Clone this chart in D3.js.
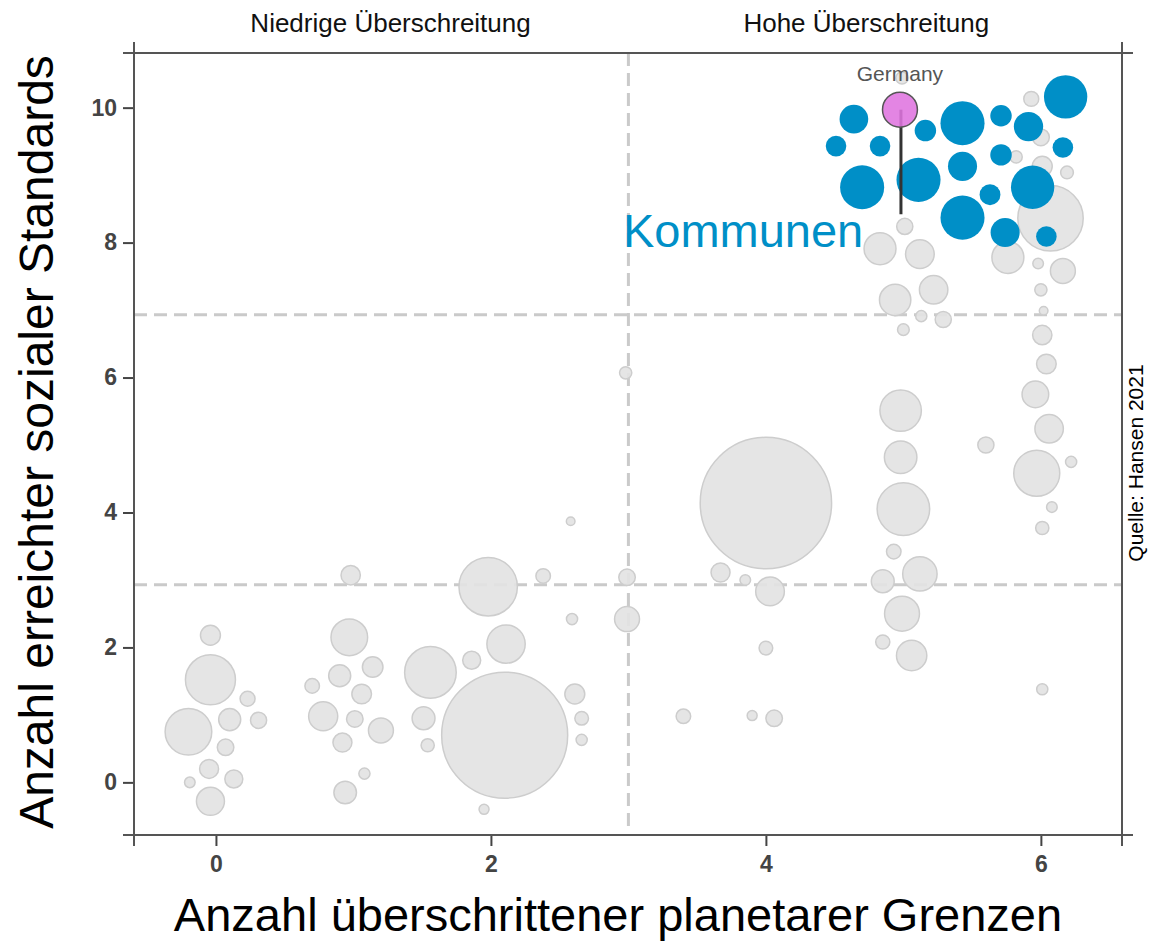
<!DOCTYPE html>
<head>
<meta charset="utf-8">
<script src="https://d3js.org/d3.v7.min.js"></script>
<style>
  body { margin: 0; background: #fff; font-family: "Liberation Sans", Arial, sans-serif; }
  .tick text { font-weight: bold; fill: #444; font-size: 23px; }
  .tick line { stroke: #444; stroke-width: 2; }
</style>
</head>
<body>
<div id="chart"></div>
<script>
// axis setup
var xTicks = [0, 2, 4, 6];
var yTicks = [0, 2, 4, 6, 8, 10];
var vLines = [3];            // planetary boundary split
var hLines = [2.93, 6.93];   // social threshold splits
var topLabels = ["Niedrige Überschreitung", "Hohe Überschreitung"];
var topLabelX = [1.27, 4.73];

// countries: [x, y, population]
var grayBubbles = [
  [-0.04, 2.18, 32], [-0.04, 1.52, 201], [-0.20, 0.75, 175], [0.10, 0.93, 39],
  [0.23, 1.24, 18], [0.31, 0.92, 21], [0.07, 0.52, 22], [-0.05, 0.20, 29],
  [-0.19, 0.00, 9], [0.13, 0.05, 26], [-0.04, -0.28, 63],
  [0.98, 3.07, 30], [0.97, 2.15, 108], [1.14, 1.71, 34], [0.90, 1.58, 39],
  [0.70, 1.43, 17], [1.06, 1.31, 31], [0.78, 0.98, 68], [1.01, 0.94, 22],
  [1.20, 0.77, 50], [0.92, 0.59, 29], [1.08, 0.13, 10], [0.94, -0.15, 41],
  [1.98, 2.90, 274], [2.38, 3.06, 17], [2.11, 2.05, 118], [1.86, 1.81, 26],
  [1.56, 1.63, 214], [2.10, 0.70, 1276], [1.51, 0.95, 42], [1.54, 0.55, 14],
  [1.95, -0.40, 8], [2.59, 2.42, 10], [2.61, 1.31, 32], [2.66, 0.95, 15],
  [2.66, 0.63, 10], [2.58, 3.87, 6],
  [2.98, 6.07, 12], [2.99, 3.04, 22], [2.99, 2.42, 50],
  [4.00, 4.14, 1387], [3.67, 3.11, 29], [3.85, 3.00, 9], [4.03, 2.83, 66],
  [4.00, 1.99, 15], [3.40, 0.98, 17], [3.90, 0.99, 8], [4.06, 0.95, 22],
  [4.98, 5.51, 138], [4.98, 4.82, 85], [5.00, 4.05, 222], [4.93, 3.42, 17],
  [5.12, 3.09, 95], [4.85, 2.98, 42], [4.99, 2.50, 98], [4.85, 2.08, 16],
  [5.06, 1.88, 74], [5.60, 5.00, 21], [5.01, 8.24, 21], [4.83, 7.91, 82],
  [5.12, 7.83, 66], [4.94, 7.15, 79], [5.22, 7.30, 65], [5.13, 6.91, 10],
  [5.29, 6.86, 21], [5.00, 6.71, 11], [4.99, 10.44, 12],
  [6.02, 6.99, 6], [6.01, 6.63, 30], [6.04, 6.20, 31], [5.96, 5.75, 57],
  [6.06, 5.24, 65], [6.22, 4.75, 10], [5.97, 4.58, 170], [6.08, 4.08, 9],
  [6.01, 3.77, 14], [6.01, 1.38, 10], [5.76, 7.78, 82], [5.98, 7.69, 9],
  [6.16, 7.58, 50], [6.00, 7.30, 12], [6.07, 8.36, 344], [5.93, 10.13, 18],
  [6.00, 9.56, 23], [5.82, 9.27, 12], [6.01, 9.13, 32], [6.19, 9.04, 13]
];

// municipalities: [x, y, size]
var blueBubbles = [
  [4.64, 9.83, 66], [4.51, 9.43, 34], [4.83, 9.43, 34], [5.16, 9.66, 37],
  [5.43, 9.77, 156], [5.71, 9.88, 37], [5.91, 9.72, 69], [6.18, 10.16, 151],
  [6.16, 9.41, 34], [5.43, 9.13, 68], [5.71, 9.30, 37], [4.70, 8.82, 156],
  [5.11, 8.93, 156], [5.63, 8.71, 35], [5.94, 8.82, 151], [5.43, 8.37, 156],
  [5.74, 8.15, 68], [6.04, 8.09, 34]
];

var germany = {name: "Germany", x: 4.975, y: 9.97, pop: 98, lineTo: 8.42};
var blueLabel = {text: "Kommunen", x: 2.96, y: 7.94};

var margin = {top: 53, right: 28, bottom: 109, left: 134},
    width = 1150 - margin.left - margin.right,
    height = 944 - margin.top - margin.bottom;

var svg = d3.select("#chart")
  .append("svg")
    .attr("width", 1150)
    .attr("height", 944)
  .append("g")
    .attr("transform", "translate(" + margin.left + "," + margin.top + ")");

var x = d3.scaleLinear().domain([-0.596, 6.59]).range([0, width]);
var y = d3.scaleLinear().domain([-0.78, 10.81]).range([height, 0]);
var r = d3.scaleSqrt().domain([0, 1400]).range([0, 66]);

// dashed split lines
svg.selectAll(".vsplit").data(vLines).enter().append("line")
  .attr("x1", function(d) { return x(d); }).attr("x2", function(d) { return x(d); })
  .attr("y1", 0).attr("y2", height - 8)
  .style("stroke", "#cacaca").style("stroke-width", 3).style("stroke-dasharray", "13,7");
svg.selectAll(".hsplit").data(hLines).enter().append("line")
  .attr("x1", 0).attr("x2", width)
  .attr("y1", function(d) { return y(d); }).attr("y2", function(d) { return y(d); })
  .style("stroke", "#cacaca").style("stroke-width", 3).style("stroke-dasharray", "13,7");

// gray country bubbles, big ones first
svg.append("g")
  .selectAll("circle")
  .data(grayBubbles.slice().sort(function(a, b) { return b[2] - a[2]; }))
  .enter()
  .append("circle")
    .attr("cx", function(d) { return x(d[0]); })
    .attr("cy", function(d) { return y(d[1]); })
    .attr("r", function(d) { return r(d[2]); })
    .style("fill", "#e3e3e3")
    .style("fill-opacity", 0.92)
    .style("stroke", "#cdcdcd")
    .style("stroke-width", 1.5);

// blue municipality bubbles
svg.append("g")
  .selectAll("circle")
  .data(blueBubbles)
  .enter()
  .append("circle")
    .attr("cx", function(d) { return x(d[0]); })
    .attr("cy", function(d) { return y(d[1]); })
    .attr("r", function(d) { return r(d[2]); })
    .style("fill", "#008fc7");

// Germany marker
svg.append("line")
  .attr("x1", x(germany.x) + 1).attr("x2", x(germany.x) + 1)
  .attr("y1", y(germany.y)).attr("y2", y(germany.lineTo))
  .style("stroke", "#333").style("stroke-width", 3);
svg.append("circle")
  .attr("cx", x(germany.x))
  .attr("cy", y(germany.y))
  .attr("r", r(germany.pop))
  .style("fill", "#df74df")
  .style("fill-opacity", 0.88)
  .style("stroke", "#555")
  .style("stroke-width", 1.5);
svg.append("text")
  .attr("x", x(germany.x))
  .attr("y", y(germany.y) - r(germany.pop) - 11)
  .style("text-anchor", "middle")
  .style("font-size", "21px")
  .style("fill", "#555")
  .text(germany.name);

svg.append("text")
  .attr("x", x(blueLabel.x))
  .attr("y", y(blueLabel.y))
  .style("font-size", "47px")
  .style("fill", "#008fc7")
  .text(blueLabel.text);

// axes
svg.append("g")
  .attr("transform", "translate(0," + height + ")")
  .call(d3.axisBottom(x).tickValues(xTicks).tickSize(11).tickSizeOuter(0).tickPadding(10))
  .call(function(g) { g.select(".domain").remove(); });
svg.append("g")
  .call(d3.axisLeft(y).tickValues(yTicks).tickSize(11).tickSizeOuter(0).tickPadding(6))
  .call(function(g) { g.select(".domain").remove(); });
d3.selectAll(".tick text").attr("font-family", null).attr("font-size", null);

// frame with overhanging ends
var over = 11;
var frame = [
  [-over, 0, width + over, 0],
  [-over, height, width + over, height],
  [0, -over, 0, height + over],
  [width, -over, width, height + over]
];
svg.selectAll(".frame").data(frame).enter().append("line")
  .attr("x1", function(d) { return d[0]; }).attr("y1", function(d) { return d[1]; })
  .attr("x2", function(d) { return d[2]; }).attr("y2", function(d) { return d[3]; })
  .style("stroke", "#555").style("stroke-width", 2);

// titles
svg.selectAll(".toplabel").data(topLabels).enter().append("text")
  .attr("x", function(d, i) { return x(topLabelX[i]); })
  .attr("y", -21)
  .style("text-anchor", "middle")
  .style("font-size", "26px")
  .style("fill", "#111")
  .text(function(d) { return d; });

svg.append("text")
  .attr("x", width / 2 - 10)
  .attr("y", height + 96)
  .style("text-anchor", "middle")
  .style("font-size", "47px")
  .style("fill", "#000")
  .text("Anzahl überschrittener planetarer Grenzen");

svg.append("text")
  .attr("transform", "rotate(-90)")
  .attr("x", -(442 - margin.top))
  .attr("y", 53 - margin.left)
  .style("text-anchor", "middle")
  .style("font-size", "48px")
  .style("fill", "#000")
  .text("Anzahl erreichter sozialer Standards");

svg.append("text")
  .attr("transform", "rotate(-90)")
  .attr("x", -(463 - margin.top))
  .attr("y", width + 21)
  .style("text-anchor", "middle")
  .style("font-size", "21px")
  .style("fill", "#000")
  .text("Quelle: Hansen 2021");
</script>
</body>
